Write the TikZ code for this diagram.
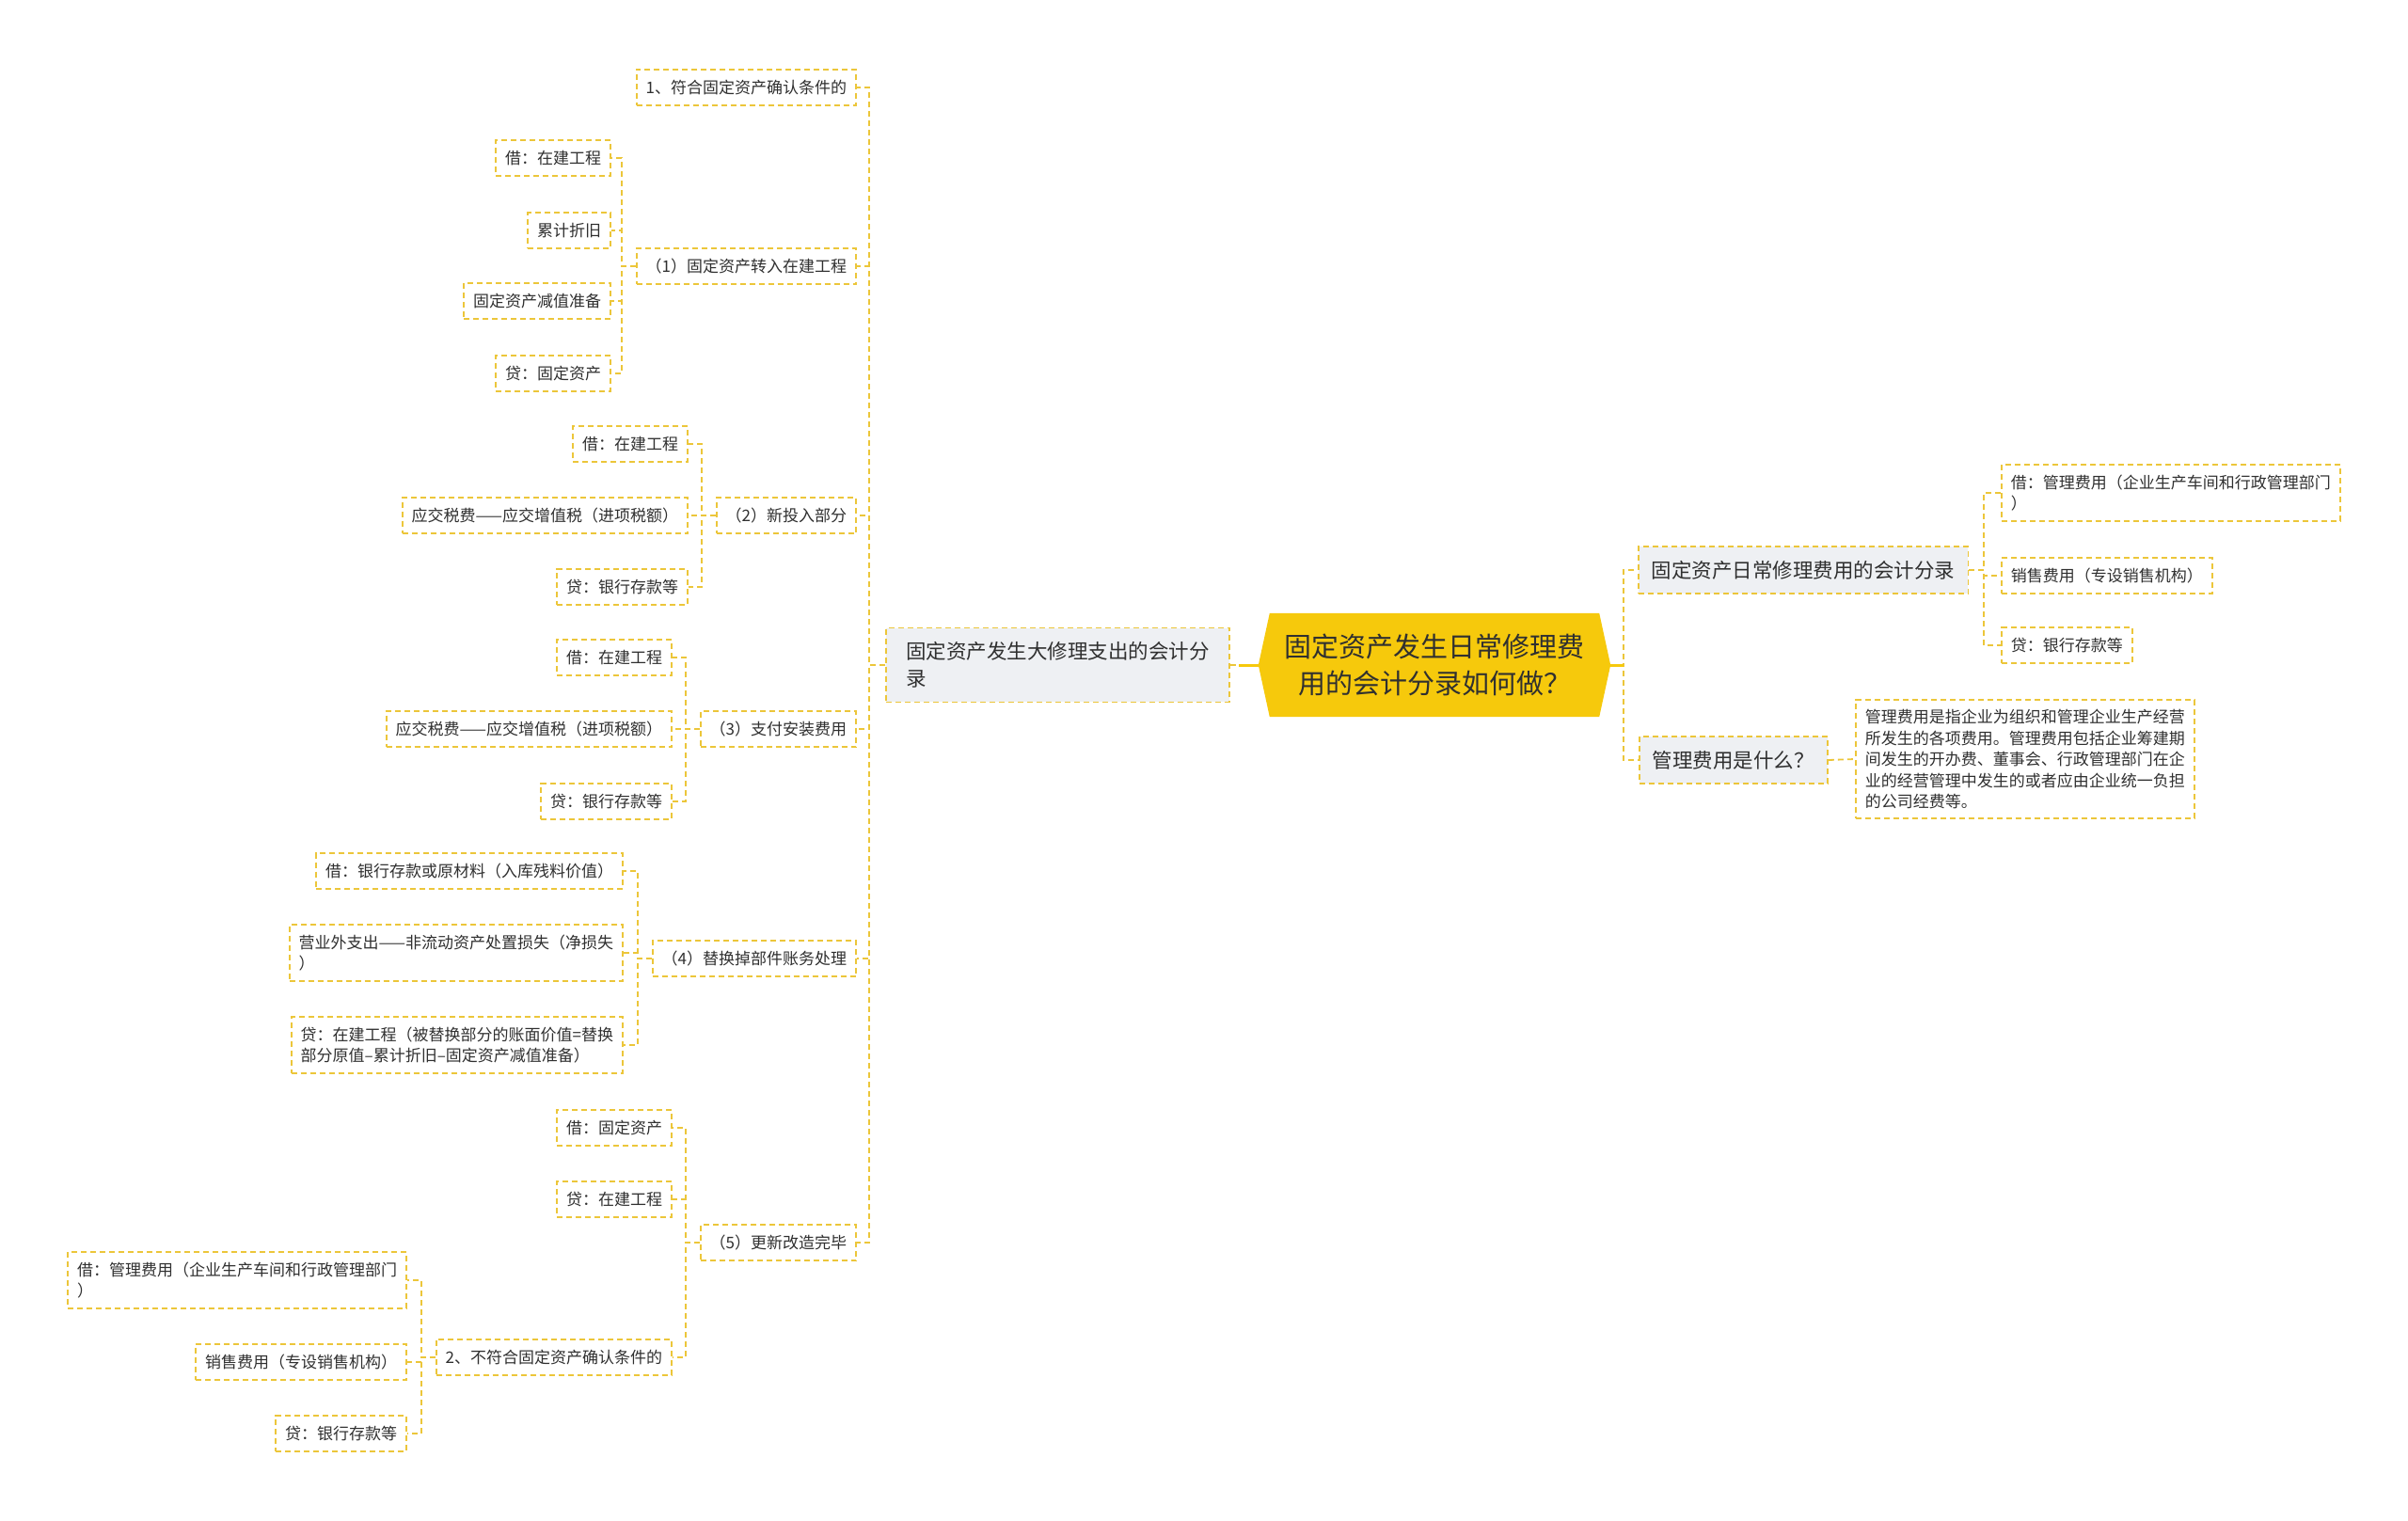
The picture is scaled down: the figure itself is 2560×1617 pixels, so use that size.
\documentclass[tikz,border=0pt]{standalone}
\usepackage{fontspec}
\setmainfont{Noto Sans CJK SC}
\usetikzlibrary{backgrounds}
\definecolor{mapgold}{RGB}{246,201,12}
\definecolor{mapdash}{RGB}{236,198,58}
\definecolor{mapgrey}{RGB}{238,240,243}
\definecolor{mapink}{RGB}{48,48,48}
\begin{document}
\begin{tikzpicture}[
  x=1pt, y=-1pt,
  every node/.style={text=mapink, align=left, inner xsep=10pt, inner ysep=11pt},
  leafbox/.style={draw=mapdash, fill=white, line width=1.8pt,
    dash pattern=on 6pt off 4pt, font=\fontsize{17}{21.5}\selectfont},
  branchbox/.style={leafbox, fill=mapgrey, inner xsep=14pt, inner ysep=15pt,
    font=\fontsize{21.5}{29}\selectfont},
  rootnode/.style={align=center, inner sep=0pt, minimum width=350pt,
    minimum height=110pt, font=\fontsize{29}{39}\selectfont},
  link/.style={draw=mapdash, line width=1.8pt, dash pattern=on 6pt off 4pt},
  rootlink/.style={draw=mapgold, line width=3pt}
]
\useasboundingbox (0,0) rectangle (2560,1617);

\node[rootnode] (root) at (1525,707) {固定资产发生日常修理费\\用的会计分录如何做？};
\begin{scope}[on background layer]
  \fill[mapgold] (root.north west) -- (root.north east) -- ([xshift=12pt]root.east)
    -- (root.south east) -- (root.south west) -- ([xshift=-12pt]root.west) -- cycle;
\end{scope}
\coordinate (rootL) at ([xshift=-12pt]root.west);
\coordinate (rootR) at ([xshift=12pt]root.east);

% left branch
\node[branchbox, anchor=east, minimum width=365pt] (major) at (1308,707)
  {固定资产发生大修理支出的会计分\\录};
\node[leafbox, anchor=east] (cond1) at (911,93) {1、符合固定资产确认条件的};
\node[leafbox, anchor=east] (step1) at (911,283) {（1）固定资产转入在建工程};
\node[leafbox, anchor=east] (step1a) at (650,168) {借：在建工程};
\node[leafbox, anchor=east] (step1b) at (650,245) {累计折旧};
\node[leafbox, anchor=east] (step1c) at (650,320) {固定资产减值准备};
\node[leafbox, anchor=east] (step1d) at (650,397) {贷：固定资产};
\node[leafbox, anchor=east] (step2) at (911,548) {（2）新投入部分};
\node[leafbox, anchor=east] (step2a) at (732,472) {借：在建工程};
\node[leafbox, anchor=east] (step2b) at (732,548) {应交税费——应交增值税（进项税额）};
\node[leafbox, anchor=east] (step2c) at (732,624) {贷：银行存款等};
\node[leafbox, anchor=east] (step3) at (911,775) {（3）支付安装费用};
\node[leafbox, anchor=east] (step3a) at (715,699) {借：在建工程};
\node[leafbox, anchor=east] (step3b) at (715,775) {应交税费——应交增值税（进项税额）};
\node[leafbox, anchor=east] (step3c) at (715,852) {贷：银行存款等};
\node[leafbox, anchor=east] (step4) at (911,1019) {（4）替换掉部件账务处理};
\node[leafbox, anchor=east] (step4a) at (663,926) {借：银行存款或原材料（入库残料价值）};
\node[leafbox, anchor=east] (step4b) at (663,1013)
  {营业外支出——非流动资产处置损失（净损失\\）};
\node[leafbox, anchor=east] (step4c) at (663,1111)
  {贷：在建工程（被替换部分的账面价值=替换\\部分原值–累计折旧–固定资产减值准备）};
\node[leafbox, anchor=east] (step5) at (911,1321) {（5）更新改造完毕};
\node[leafbox, anchor=east] (step5a) at (715,1199) {借：固定资产};
\node[leafbox, anchor=east] (step5b) at (715,1275) {贷：在建工程};
\node[leafbox, anchor=east] (cond2) at (715,1443) {2、不符合固定资产确认条件的};
\node[leafbox, anchor=east] (cond2a) at (433,1361) {借：管理费用（企业生产车间和行政管理部门\\）};
\node[leafbox, anchor=east] (cond2b) at (433,1448) {销售费用（专设销售机构）};
\node[leafbox, anchor=east] (cond2c) at (433,1524) {贷：银行存款等};

% right branch
\node[branchbox, anchor=west] (daily) at (1741,606) {固定资产日常修理费用的会计分录};
\node[leafbox, anchor=west] (daily1) at (2127,524) {借：管理费用（企业生产车间和行政管理部门\\）};
\node[leafbox, anchor=west] (daily2) at (2127,612) {销售费用（专设销售机构）};
\node[leafbox, anchor=west] (daily3) at (2127,686) {贷：银行存款等};
\node[branchbox, anchor=west] (whatis) at (1742,808) {管理费用是什么？};
\node[leafbox, anchor=west, inner ysep=10pt, font=\fontsize{17}{22.5}\selectfont] (whatdef) at (1972,807)
  {管理费用是指企业为组织和管理企业生产经营\\所发生的各项费用。管理费用包括企业筹建期\\间发生的开办费、董事会、行政管理部门在企\\业的经营管理中发生的或者应由企业统一负担\\的公司经费等。};

% connectors
\draw[link] (major.east) -- (rootL);
\draw[rootlink] (rootL) -- ++(-21,0);
\foreach \n in {daily,whatis}
  \draw[link] (rootR) -- ++(14,0) |- (\n.west);
\draw[rootlink] (rootR) -- ++(14,0);
\foreach \n in {cond1,step1,step2,step3,step4,step5}
  \draw[link] (major.west) -- ++(-17,0) |- (\n.east);
\foreach \n in {step1a,step1b,step1c,step1d}
  \draw[link] (step1.west) -- ++(-15,0) |- (\n.east);
\foreach \n in {step2a,step2b,step2c}
  \draw[link] (step2.west) -- ++(-15,0) |- (\n.east);
\foreach \n in {step3a,step3b,step3c}
  \draw[link] (step3.west) -- ++(-15,0) |- (\n.east);
\foreach \n in {step4a,step4b,step4c}
  \draw[link] (step4.west) -- ++(-15,0) |- (\n.east);
\foreach \n in {step5a,step5b,cond2}
  \draw[link] (step5.west) -- ++(-15,0) |- (\n.east);
\foreach \n in {cond2a,cond2b,cond2c}
  \draw[link] (cond2.west) -- ++(-15,0) |- (\n.east);
\foreach \n in {daily1,daily2,daily3}
  \draw[link] (daily.east) -- ++(16,0) |- (\n.west);
\draw[link] (whatis.east) -- (whatdef.west);
\end{tikzpicture}
\end{document}
